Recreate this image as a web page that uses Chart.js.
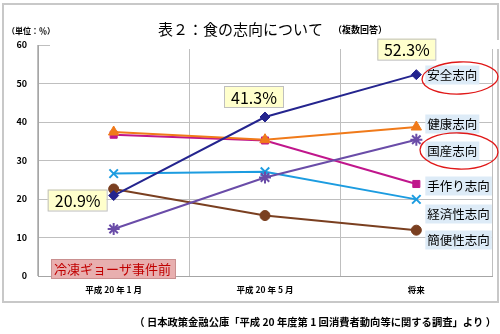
<!DOCTYPE html>
<html>
<head>
<meta charset="utf-8">
<script src="https://cdn.jsdelivr.net/npm/chart.js@4"></script>
<style>
  html, body { margin: 0; padding: 0; background: #fff; }
  canvas { display: block; }
</style>
</head>
<body>
<canvas id="foodChart" width="500" height="334"></canvas>
<script>
const ctx = document.getElementById('foodChart').getContext('2d');

// Data
const periods = ['平成 20 年 1 月', '平成 20 年 5 月', '将来'];
const safety = [20.9, 41.3, 52.3];      // 安全志向
const health = [37.4, 35.4, 38.7];      // 健康志向
const domestic = [12.2, 25.6, 35.4];    // 国産志向
const homemade = [36.7, 35.2, 23.9];    // 手作り志向
const economy = [26.6, 27.1, 19.9];     // 経済性志向
const convenience = [22.6, 15.7, 11.9]; // 簡便性志向
const seriesNames = ['安全志向', '健康志向', '国産志向', '手作り志向', '経済性志向', '簡便性志向'];
const yTicks = [0, 10, 20, 30, 40, 50, 60];

const JP = '"Noto Sans CJK JP", "Noto Sans", sans-serif';

function series(label, data, color, style, radius) {
  return {
    label, data,
    borderColor: color,
    backgroundColor: color,
    borderWidth: 2,
    pointStyle: style,
    pointRadius: radius,
    pointBorderWidth: style === 'crossRot' || style === 'star' ? 2 : 1,
    tension: 0
  };
}

// frame, title and notes around the plot
const decorations = {
  id: 'decorations',
  beforeDraw(chart) {
    const c = chart.ctx;
    c.save();
    c.fillStyle = '#fff';
    c.fillRect(0, 0, chart.width, chart.height);
    c.strokeStyle = '#C8C8C8';
    c.lineWidth = 2;
    c.strokeRect(3, 4, 495, 298);
    c.restore();
  },
  beforeDatasetsDraw(chart) {
    // the 60 gridline is hidden behind the title area
    const c = chart.ctx;
    c.save();
    c.fillStyle = '#fff';
    c.fillRect(50, 40, 449, 9);
    c.restore();
  },
  afterDatasetsDraw(chart) {
    const c = chart.ctx;
    const pt = (ds, i) => chart.getDatasetMeta(ds).data[i];
    c.save();

    // title
    c.fillStyle = '#000';
    c.textBaseline = 'middle';
    c.textAlign = 'left';
    c.font = '15px ' + JP;
    c.fillText('表２：食の志向について', 158, 29);
    c.font = 'bold 9px ' + JP;
    c.fillText('（複数回答）', 333, 30);
    c.font = 'bold 8px ' + JP;
    c.fillText('（単位：％）', 7, 31);

    // source note
    c.font = 'bold 10.3px ' + JP;
    c.textAlign = 'right';
    c.fillText('（ 日本政策金融公庫「平成 20 年度第 1 回消費者動向等に関する調査」より ）', 496, 322);

    // value boxes for 安全志向
    const valueBox = (x, y, w, text) => {
      c.fillStyle = '#FFFFCC';
      c.fillRect(x, y, w, 21);
      c.strokeStyle = '#BFBFBF';
      c.lineWidth = 1;
      c.strokeRect(x + 0.5, y + 0.5, w, 21);
      c.fillStyle = '#000';
      c.font = '16px ' + JP;
      c.textAlign = 'center';
      c.fillText(text, x + w / 2 + 0.5, y + 11.5);
    };
    const p0 = pt(0, 0), p1 = pt(0, 1), p2 = pt(0, 2);
    valueBox(p0.x - 66, p0.y - 6, 59, safety[0] + '%');
    valueBox(p1.x - 41, p1.y - 31, 59, safety[1] + '%');
    valueBox(p2.x - 39, p2.y - 36, 58, safety[2] + '%');

    // series labels on the right
    const labelY = [75, 124, 151, 186, 214, 240];
    c.font = '12.5px ' + JP;
    c.textAlign = 'left';
    seriesNames.forEach((name, i) => {
      const x = pt(0, 2).x + 9;
      const w = name.length * 12.5 + 4;
      c.fillStyle = '#DDEBF7';
      c.fillRect(x, labelY[i] - 9.5, w, 19);
      c.fillStyle = '#000';
      c.fillText(name, x + 2, labelY[i] + 0.5);
    });

    // red hand-drawn circles
    c.strokeStyle = '#E01818';
    c.lineWidth = 1.3;
    c.beginPath();
    c.ellipse(460, 78, 38, 16, -0.04, 0, Math.PI * 2);
    c.stroke();
    c.beginPath();
    c.ellipse(459, 151, 39, 18, 0.03, 0, Math.PI * 2);
    c.stroke();

    // event note
    c.fillStyle = '#E8AFAF';
    c.fillRect(51, 259, 124, 19);
    c.strokeStyle = '#C99090';
    c.lineWidth = 1;
    c.strokeRect(51.5, 259.5, 124, 19);
    c.fillStyle = '#C00000';
    c.font = '13px ' + JP;
    c.fillText('冷凍ギョーザ事件前', 54, 269.5);

    c.restore();
  }
};

const foodChart = new Chart(ctx, {
  type: 'line',
  data: {
    labels: periods,
    datasets: [
      series('安全志向', safety, '#24248E', 'rectRot', 5),
      series('健康志向', health, '#F07A1A', 'triangle', 6),
      series('国産志向', domestic, '#6A4CA8', 'star', 6),
      series('手作り志向', homemade, '#C0168C', 'rect', 5),
      series('経済性志向', economy, '#1C9CE0', 'crossRot', 6),
      series('簡便性志向', convenience, '#7A3F20', 'circle', 5)
    ]
  },
  options: {
    responsive: false,
    animation: false,
    layout: { padding: { top: 45, right: 3, left: 0, bottom: 0 } },
    plugins: {
      legend: { display: false },
      tooltip: { enabled: false }
    },
    scales: {
      x: {
        offset: true,
        grid: { offset: true, color: '#BFBFBF', drawTicks: false },
        border: { color: '#A6A6A6' },
        ticks: { color: '#000', font: { family: JP, size: 8.5, weight: 'bold' }, padding: 9 },
        afterFit: (s) => { s.height = 58; }
      },
      y: {
        min: 0,
        max: 60,
        afterBuildTicks: (s) => { s.ticks = yTicks.map(v => ({ value: v })); },
        grid: { color: '#BFBFBF', drawTicks: false },
        border: { color: '#A6A6A6' },
        ticks: { color: '#000', font: { family: JP, size: 9, weight: 'bold' }, padding: 11 },
        afterFit: (s) => { s.width = 38; }
      }
    }
  },
  plugins: [decorations]
});
</script>
</body>
</html>
